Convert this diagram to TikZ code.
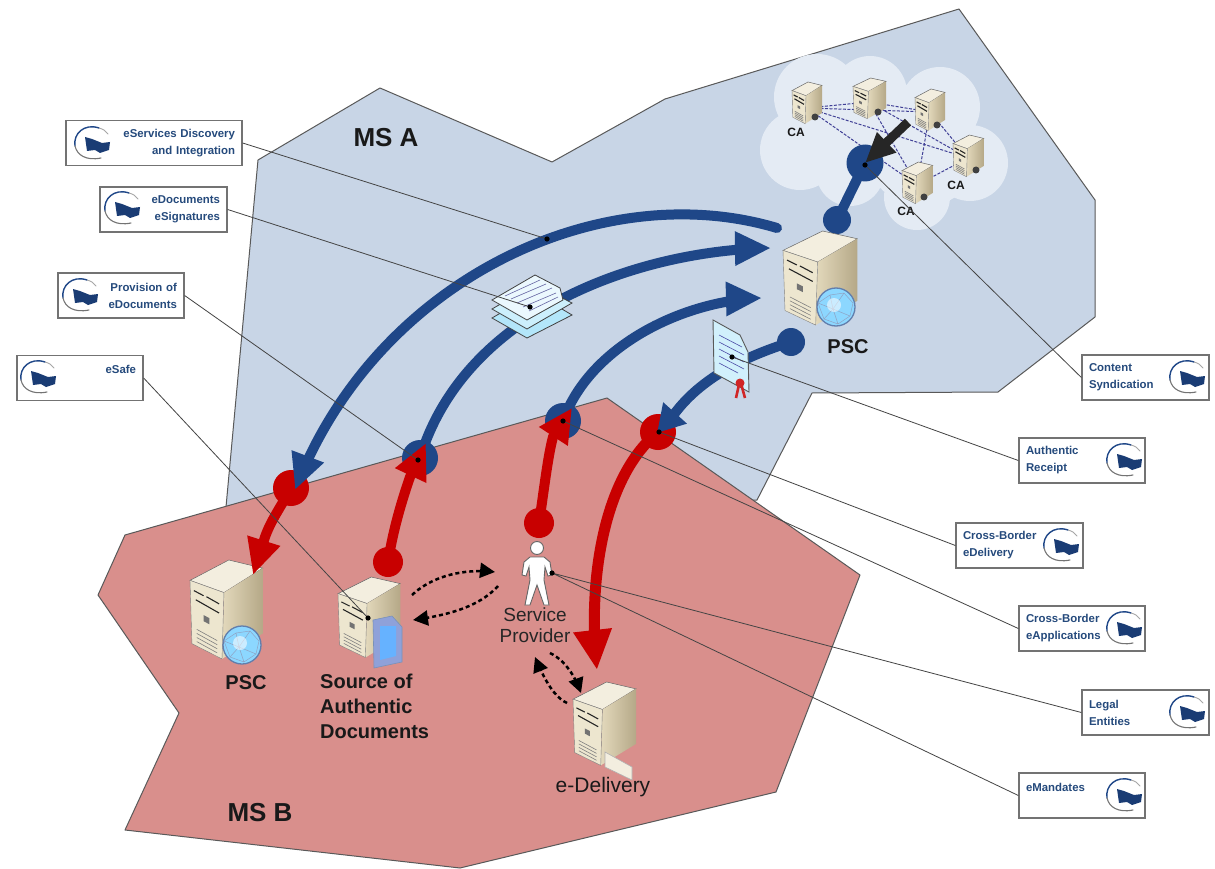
\documentclass[tikz,border=0pt]{standalone}
\usepackage{fontspec}
\setmainfont{Liberation Sans}
\usetikzlibrary{arrows.meta,bending}
\definecolor{msa}{HTML}{C8D5E6}
\definecolor{msb}{HTML}{D98F8C}
\definecolor{navy}{HTML}{1F4788}
\definecolor{redarc}{HTML}{C80000}
\definecolor{cloudc}{HTML}{E4EBF4}
\definecolor{boxtxt}{HTML}{254A7C}
\definecolor{leader}{HTML}{444444}
\definecolor{srvtop}{HTML}{F3EEDF}
\definecolor{srvfront}{HTML}{EDE6CF}
\definecolor{srvsideA}{HTML}{E3D9BC}
\definecolor{srvsideB}{HTML}{B5A887}
\tikzset{
  x=1pt,y=-1pt,
  region/.style={draw=black!65,line width=1pt,line join=round},
  bluearc/.style={draw=navy,line width=10pt},
  redline/.style={draw=redarc,line width=10pt},
  bighead/.style={-{Triangle[length=36pt,width=32pt,flex=0]}},
  hub/.style={circle,minimum size=#1,inner sep=0pt},
  leaderline/.style={draw=leader,line width=.8pt},
  flowdash/.style={draw=black,line width=2.5pt,dash pattern=on 4pt off 3pt,-{Triangle[length=15pt,width=15pt,flex=0]}},
  callout/.style={draw=black!55,fill=white,line width=1.3pt,minimum height=45pt,inner xsep=7pt,inner ysep=0pt,
     text=boxtxt,font=\fontsize{11.4}{17}\bfseries\selectfont},
  bigbold/.style={font=\fontsize{26}{30}\bfseries\selectfont,text=black!90},
  midbold/.style={font=\fontsize{20}{25}\bfseries\selectfont,text=black!90},
  tinybold/.style={font=\fontsize{12}{14}\bfseries\selectfont,text=black!90},
  serverbox/.pic={
    \fill[draw=black!60,line width=.5pt,fill=srvtop] (0,20)--(40,0)--(75,8)--(35,32)--cycle;
    \shade[left color=srvsideA,right color=srvsideB] (35,32)--(75,8)--(75,72)--(33,97)--cycle;
    \fill[draw=black!50,line width=.4pt,fill=srvfront] (0,20)--(35,32)--(33,97)--(2,82)--cycle;
    \draw[black!85,line width=1.1pt] (4,30)--(14,35) (17,36)--(30,43) (6,39)--(30,52);
    \fill[black!55] (14,54)--(20,57)--(20,63)--(14,60)--cycle;
    \draw[black!50,line width=.6pt] (7,68)--(28,79) (7,72)--(28,83) (7,76)--(28,87) (7,80)--(28,91);
  },
  flagicon/.pic={
    \draw[navy,line width=1.4pt,line cap=round] (7,-15) .. controls (-8,-20) and (-19,-9) .. (-17,3);
    \draw[black!55,line width=1.1pt,line cap=round] (-17,3) .. controls (-15,12) and (-6,18) .. (9,15);
    \draw[black!35,line width=.9pt,line cap=round] (7,-15) .. controls (11,-14) and (14,-12) .. (16,-9);
    \fill[navy!85!black] (-7,-6) -- (0,-4) -- (10,0) -- (18,-1) -- (17,7) -- (8,10) -- (3,7) -- (-5,8) -- cycle;
  },
  globeic/.pic={
    \fill[blue!35!cyan!45!white,draw=navy!70,line width=1.3pt] (0,0) circle[radius=19pt];
    \draw[navy!50,line width=.5pt] (-18,-4)--(-6,-12)--(8,-14)--(17,-4)--(14,9)--(2,17)--(-12,12)--cycle (-6,-12)--(-3,2)--(14,9) (-3,2)--(-12,12) (8,-14)--(-3,2) (-3,2)--(2,17) (-18,-4)--(-3,2);
    \fill[white,opacity=.55] (-2,-2) circle[radius=7pt];
  },
}
\begin{document}
\begin{tikzpicture}
\useasboundingbox (0,0) rectangle (1215,869);
\fill[white] (0,0) rectangle (1215,869);
% regions
\filldraw[region,fill=msa] (258,160)--(380,88)--(552,162)--(665,99)--(959,9)--(1095,200)--(1095,317)--(998,392)--(812,393)--(757,500)--(226,507)--cycle;
\filldraw[region,fill=msb] (125,535)--(607,398)--(860,575)--(776,792)--(460,868)--(125,830)--(179,713)--(98,595)--cycle;
% cloud
\fill[cloudc] (817,97) circle[radius=43pt] (870,93) circle[radius=37pt] (940,107) circle[radius=40pt] (970,163) circle[radius=38pt] (917,197) circle[radius=33pt] (800,150) circle[radius=40pt] (850,172) circle[radius=34pt] (857,143) circle[radius=50pt] (923,150) circle[radius=57pt];
% named anchors
\coordinate (ca1) at (807,108);
\coordinate (ca2) at (869,102);
\coordinate (ca3) at (930,112);
\coordinate (ca4) at (968,158);
\coordinate (ca5) at (917,185);
\draw[draw=blue!45!black!75,line width=1pt,dashed,dash pattern=on 3pt off 1.5pt]
  (ca1)--(ca2) (ca1)--(ca3) (ca1)--(ca4) (ca1)--(ca5) (ca2)--(ca3) (ca2)--(ca4) (ca2)--(ca5) (ca3)--(ca4) (ca3)--(ca5) (ca4)--(ca5);
\pic (sca1) [xscale=.4,yscale=.43] at (792,82) {serverbox};
\pic (sca2) [xscale=.44,yscale=.42] at (853,78) {serverbox};
\pic (sca3) [xscale=.4,yscale=.43] at (915,89) {serverbox};
\pic (sca4) [xscale=.41,yscale=.43] at (953,135) {serverbox};
\pic (sca5) [xscale=.41,yscale=.43] at (902,162) {serverbox};
\fill[black!75] (815,117) circle[radius=3.5pt] (878,112) circle[radius=3.5pt] (937,125) circle[radius=3.5pt] (976,170) circle[radius=3.5pt] (924,197) circle[radius=3.5pt];
\node[tinybold] (lca1) at (796,132) {CA};
\node[tinybold] (lca4) at (956,185) {CA};
\node[tinybold] (lca5) at (906,211) {CA};
% hub points
\coordinate (s1) at (777,228); \coordinate (t1) at (295,490);
\coordinate (s2) at (420,458); \coordinate (t2) at (771,248);
\coordinate (s3) at (563,421); \coordinate (t3) at (762,298);
\coordinate (s4) at (791,342); \coordinate (b4) at (675,413); \coordinate (t4) at (657,433);
\coordinate (topa) at (837,220); \coordinate (topb) at (865,163);
\coordinate (bk) at (908,122);
\coordinate (rs1) at (291,488); \coordinate (rb1) at (265,537); \coordinate (rt1) at (253,575);
\coordinate (rs2) at (388,562); \coordinate (rb2) at (410,477); \coordinate (rt2) at (426,443);
\coordinate (rs3) at (539,523); \coordinate (rb3) at (553,437); \coordinate (rt3) at (572,408);
\coordinate (rs4) at (658,432); \coordinate (rt4) at (597,670);
% hub discs under arrows
\node[hub=36pt,fill=redarc] (hr1) at (rs1) {};
\node[hub=36pt,fill=navy] (hb2) at (s2) {};
\node[hub=36pt,fill=navy] (hb3) at (s3) {};
\node[hub=36pt,fill=redarc] (hr4) at (rs4) {};
\node[hub=28pt,fill=navy] (hb4) at (s4) {};
\node[hub=28pt,fill=navy] (hta) at (topa) {};
\node[hub=37pt,fill=navy] (htb) at (topb) {};
% blue arcs
\draw[bluearc,bighead,line cap=round] (s1) .. controls (600,175) and (375,280) .. (t1);
\draw[bluearc,bighead] (s2) .. controls (465,310) and (640,250) .. (t2);
\draw[bluearc,bighead] (s3) .. controls (590,345) and (685,300) .. (t3);
\draw[bluearc,-{Triangle[length=27pt,width=30pt,flex=0]}] (s4) .. controls (740,358) and (700,380) .. (b4) -- (t4);
\draw[bluearc] (topa) -- (topb);
\draw[draw=black!85,line width=9pt,-{Triangle[length=30pt,width=26pt,flex=0]}] (bk) -- (topb);
% servers
\pic (psca) [xscale=.99,yscale=.97] at (783,231) {serverbox};
\pic (gla) at (836,307) {globeic};
\pic (pscb) [xscale=.97,yscale=1.02] at (190,560) {serverbox};
\pic (glb) at (242,645) {globeic};
\pic (src) [xscale=.83,yscale=.83] at (338,577) {serverbox};
\pic (edl) [xscale=.84,yscale=.86] at (573,682) {serverbox};
% door and envelope
\filldraw[draw=navy!60,fill=cyan!35!blue!45!white,line width=.6pt] (373,620)--(392,616)--(402,627)--(402,662)--(374,668)--cycle;
\fill[blue!50!cyan!60!white] (380,626)--(396,626)--(396,656)--(380,660)--cycle;
\filldraw[draw=white!70!black,fill=srvtop,line width=.6pt] (605,752)--(632,767)--(632,780)--(605,767)--cycle;
% documents stack
\filldraw[draw=black!75,fill=cyan!30!white,line width=.8pt] (492,318)--(535,293)--(572,315)--(527,338)--cycle;
\filldraw[draw=black!75,fill=cyan!20!white,line width=.8pt] (492,309)--(535,284)--(572,303)--(527,329)--cycle;
\filldraw[draw=black!75,fill=white!92!cyan,line width=.8pt] (492,300)--(535,275)--(560,288)--(563,300)--(527,320)--cycle;
\draw[blue!40!black!60,line width=.6pt] (505,296)--(540,280) (511,299)--(546,284) (517,303)--(552,288) (523,307)--(556,293) (529,311)--(558,297);
% receipt
\filldraw[draw=black!65,fill=cyan!18!white,line width=.9pt] (713,320)--(740,335)--(748,352)--(749,392)--(714,373)--cycle;
\draw[blue!50!black!70,line width=.6pt] (719,335)--(742,347) (719,342)--(744,355) (719,349)--(744,362) (719,356)--(744,369) (719,363)--(738,373);
\draw[redarc!85,line width=2.6pt] (740,380)--(736,398) (740,380)--(745,398);
\fill[redarc!85] (740,383) circle[radius=4.5pt];
% person
\filldraw[fill=white,draw=black!60,line width=.9pt] (530,557)--(544,557)--(550,562)--(552,575)--(548,576)--(545,567)--(544,580)--(549,605)--(544,605)--(537,585)--(530,605)--(525,605)--(530,580)--(529,567)--(526,576)--(522,575)--(524,562)--cycle;
\filldraw[fill=white,draw=black!60,line width=.9pt] (537,548) circle[radius=6.5pt];
% red arrows
\node[hub=30pt,fill=redarc] (hr2) at (rs2) {};
\node[hub=30pt,fill=redarc] (hr3) at (rs3) {};
\draw[redline,bighead] (rs1) .. controls (282,505) and (271,520) .. (rb1) -- (rt1);
\draw[redline,bighead] (rs2) .. controls (393,530) and (402,500) .. (rb2) -- (rt2);
\draw[redline,-{Triangle[length=34pt,width=32pt,flex=0]}] (rs3) .. controls (544,490) and (548,455) .. (rb3) -- (rt3);
\draw[redline,line width=11pt,-{Triangle[length=40pt,width=36pt,flex=0]}] (rs4) .. controls (600,480) and (588,590) .. (rt4);
% dashed flows
\coordinate (srcr) at (412,595); \coordinate (spl) at (495,572);
\coordinate (spl2) at (498,586); \coordinate (srcr2) at (413,620);
\coordinate (spb) at (550,653); \coordinate (edt) at (581,693);
\coordinate (edl2) at (567,703); \coordinate (spb2) at (535,657);
\draw[flowdash] (srcr) .. controls (430,578) and (460,568) .. (spl);
\draw[flowdash] (spl2) .. controls (480,606) and (450,615) .. (srcr2);
\draw[flowdash] (spb) .. controls (560,658) and (572,668) .. (edt);
\draw[flowdash] (edl2) .. controls (556,698) and (546,684) .. (spb2);
% labels
\node[bigbold] (msal) at (386,138) {MS A};
\node[bigbold] (msbl) at (260,813) {MS B};
\node[midbold] (psc1) at (848,347) {PSC};
\node[midbold] (psc2) at (246,683) {PSC};
\node[midbold,align=left,anchor=north west,inner sep=0pt,font=\fontsize{20}{25}\bfseries\selectfont] (sad) at (320,674) {Source of\\Authentic\\Documents};
\node[align=center,font=\fontsize{19}{21}\selectfont,text=black!85] (spv) at (535,625) {Service\\Provider};
\node[font=\fontsize{21}{24}\selectfont,text=black!90] (edv) at (603,787) {e-Delivery};
% callouts
\node[callout,text width=162pt,align=right] (c1) at (154,143) {eServices Discovery\\and Integration};
\node[callout,text width=113pt,align=right] (c2) at (163.5,209.5) {eDocuments\\eSignatures};
\node[callout,text width=112pt,align=right] (c3) at (121,295.5) {Provision of\\eDocuments};
\node[callout,text width=112pt,align=right] (c4) at (80,378) {eSafe\\\mbox{}};
\node[callout,text width=113pt,align=left] (c5) at (1145.5,377.5) {Content\\Syndication};
\node[callout,text width=112pt,align=left] (c6) at (1082,460.5) {Authentic\\Receipt};
\node[callout,text width=113pt,align=left] (c7) at (1019.5,545.5) {Cross-Border\\eDelivery};
\node[callout,text width=112pt,align=left] (c8) at (1082,628.5) {Cross-Border\\eApplications};
\node[callout,text width=113pt,align=left] (c9) at (1145.5,712.5) {Legal\\Entities};
\node[callout,text width=112pt,align=left] (c10) at (1082,795.5) {eMandates\\\mbox{}};
\pic (i1) at (92,143) {flagicon};
\pic (i2) at (122,208) {flagicon};
\pic (i3) at (80,295) {flagicon};
\pic (i4) at (38,377) {flagicon};
\pic (i5) at (1187,377) {flagicon};
\pic (i6) at (1124,460) {flagicon};
\pic (i7) at (1061,545) {flagicon};
\pic (i8) at (1124,628) {flagicon};
\pic (i9) at (1187,712) {flagicon};
\pic (i10) at (1124,795) {flagicon};
% leader targets
\coordinate (d1) at (547,239);
\coordinate (d2) at (530,307);
\coordinate (d3) at (418,460);
\coordinate (d4) at (368,618);
\coordinate (d5) at (865,165);
\coordinate (d6) at (732,357);
\coordinate (d7) at (659,432);
\coordinate (d8) at (563,421);
\coordinate (d9) at (552,573);
\draw[leaderline] (c1.east)--(d1) (c2.east)--(d2) (c3.east)--(d3) (c4.east)--(d4) (c5.west)--(d5) (c6.west)--(d6) (c7.west)--(d7) (c8.west)--(d8) (c9.west)--(d9) (c10.west)--(d9);
\fill[black] (d1) circle[radius=2.6pt] (d2) circle[radius=2.6pt] (d3) circle[radius=2.6pt] (d4) circle[radius=2.6pt] (d5) circle[radius=2.6pt] (d6) circle[radius=2.6pt] (d7) circle[radius=2.6pt] (d8) circle[radius=2.6pt] (d9) circle[radius=2.6pt];
\end{tikzpicture}
\end{document}
